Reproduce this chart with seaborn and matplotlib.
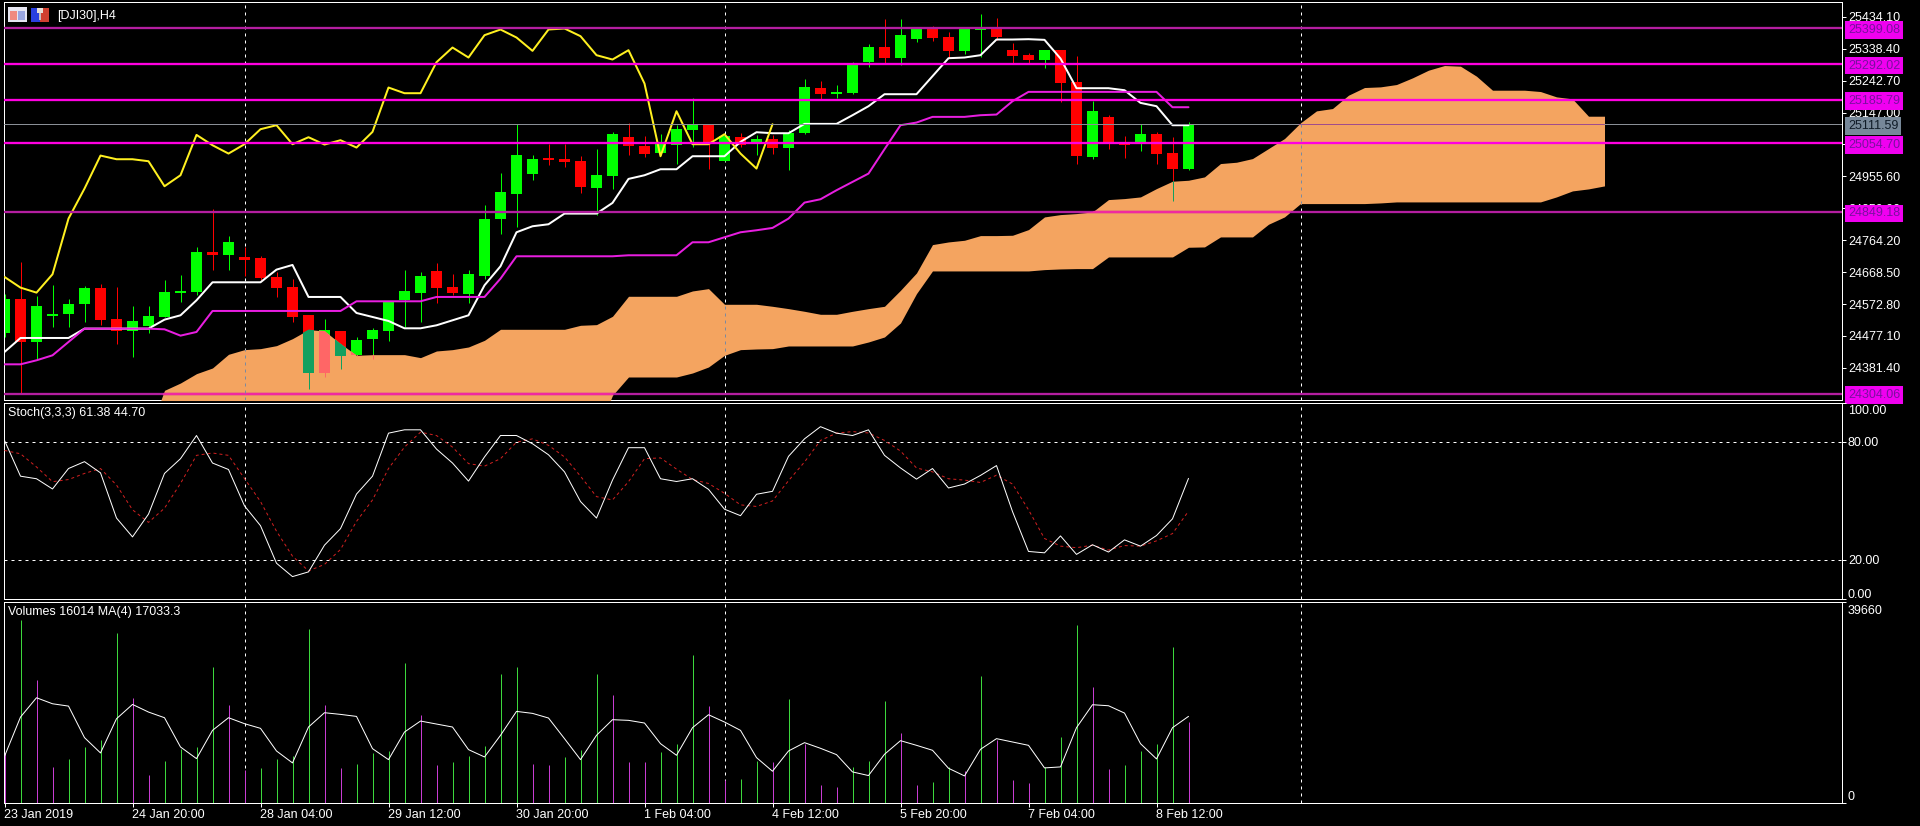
import numpy as np
import matplotlib
matplotlib.use("Agg")
import matplotlib.pyplot as plt
from matplotlib.patches import Rectangle
from matplotlib.transforms import blended_transform_factory, ScaledTranslation
import seaborn as sns

# ---------- data ----------
opens = [24486,24589,24459,24537,24542,24572,24620,24527,24492,24506,24533,24605,24608,24728,24719,24713,24710,24653,24623,24539,
         24366,24492,24419,24467,24492,24584,24605,24671,24623,24602,24656,24827,24902,24962,25010,25007,25001,24920,24956,25073,
         25046,25025,25049,25094,25109,25001,25073,25052,25067,25040,25085,25220,25202,25205,25298,25343,25310,25367,25397,25373,
         25331,25394,25397,25334,25319,25304,25334,25238,25013,25133,25055,25052,25082,25025,24977]
closes = [24587,24459,24566,24542,24572,24620,24524,24492,24521,24536,24608,24611,24728,24719,24758,24705,24650,24620,24533,24366,
          24496,24416,24466,24494,24579,24611,24656,24620,24605,24662,24827,24908,25019,25007,25004,24998,24923,24959,25082,25046,
          25022,25052,25097,25109,25052,25076,25049,25067,25040,25085,25223,25202,25208,25292,25343,25310,25379,25397,25370,25331,
          25397,25397,25373,25316,25304,25334,25235,25016,25151,25055,25049,25082,25022,24977,25111.59]
highs = [24604,24699,24596,24629,24587,24626,24632,24624,24566,24566,24644,24659,24743,24859,24776,24744,24716,24669,24649,24539,
         24529,24492,24474,24502,24579,24676,24669,24696,24662,24676,24869,24966,25112,25019,25052,25052,25016,25037,25088,25116,
         25076,25082,25109,25192,25114,25084,25086,25079,25079,25094,25249,25242,25229,25299,25354,25429,25429,25399,25406,25388,
         25399,25442,25432,25356,25326,25334,25334,25316,25181,25139,25076,25112,25088,25074,25118]
lows = [24474,24304,24409,24504,24504,24519,24509,24454,24414,24486,24533,24579,24599,24674,24674,24656,24646,24594,24519,24319,
        24354,24379,24416,24409,24462,24504,24519,24576,24599,24576,24649,24784,24804,24944,24989,24984,24906,24839,24919,25019,
        25014,25019,24992,25044,24977,25001,25044,25019,25024,24974,25084,25189,25192,25202,25284,25294,25289,25358,25362,25312,
        25322,25314,25366,25296,25294,25282,25179,24994,25009,25039,25012,25032,24994,24881,24974]
tenkan = [24429,24471,24471,24471,24471,24499,24499,24499,24499,24499,24526,24539,24584,24638,24638,24638,24638,24676,24690,24594,
          24594,24594,24546,24534,24522,24500,24500,24509,24524,24539,24629,24686,24788,24806,24812,24844,24844,24844,24876,24948,
          24959,24977,24977,25016,25016,25016,25059,25088,25085,25085,25113,25113,25113,25139,25166,25202,25202,25202,25256,25310,
          25312,25319,25366,25366,25367,25365,25309,25220,25220,25220,25214,25176,25166,25109,25109]
kijun = [24392,24392,24404,24419,24459,24499,24499,24499,24499,24499,24497,24478,24489,24552,24552,24552,24552,24552,24552,24552,
         24552,24552,24581,24581,24581,24581,24581,24594,24594,24594,24594,24649,24716,24716,24716,24716,24716,24716,24716,24719,
         24719,24719,24719,24758,24758,24773,24788,24794,24801,24829,24877,24887,24914,24939,24964,25037,25109,25117,25134,25134,
         25134,25139,25141,25181,25209,25209,25209,25209,25209,25209,25209,25209,25209,25163,25163]
chikou = [24654,24622,24607,24662,24829,24919,25018,25007,25007,25001,24926,24959,25080,25049,25024,25052,25097,25109,25052,25073,
          25051,25064,25042,25089,25222,25205,25205,25298,25342,25312,25379,25396,25372,25332,25396,25399,25376,25319,25306,25334,
          25234,25016,25151,25052,25052,25082,25024,24979,25112]
cloud_first_bar = 9
cloud_upper = [24184,24314,24336,24364,24381,24422,24436,24439,24448,24469,24496,24492,24454,24419,24421,24421,24421,24412,24432,24436,
               24444,24464,24497,24497,24497,24497,24497,24509,24511,24536,24596,24596,24596,24596,24612,24619,24572,24572,24572,24566,
               24559,24551,24542,24542,24551,24559,24566,24614,24666,24751,24759,24764,24778,24778,24779,24796,24834,24841,24844,24849,
               24886,24889,24894,24919,24941,24944,24954,24994,24998,25009,25039,25069,25116,25152,25159,25199,25222,25224,25231,25251,
               25274,25288,25286,25256,25214,25214,25214,25210,25194,25188,25136,25136]
cloud_lower = [24184,24184,24184,24184,24184,24184,24184,24184,24184,24184,24184,24184,24184,24184,24184,24184,24184,24184,24184,24184,
               24184,24184,24184,24184,24184,24184,24184,24184,24184,24299,24354,24354,24354,24354,24366,24384,24419,24436,24438,24439,
               24447,24447,24447,24447,24447,24459,24474,24516,24604,24672,24672,24672,24672,24672,24672,24672,24676,24678,24679,24679,
               24714,24714,24714,24714,24714,24743,24744,24774,24774,24774,24812,24834,24874,24874,24874,24874,24874,24876,24879,24879,
               24879,24879,24879,24879,24879,24879,24879,24879,24894,24912,24918,24927]
level_strong = [25292.02, 25185.79, 25054.70]
level_weak = [25399.08, 24849.18, 24304.06]
last_price = 25111.59
price_ticks = [25434.10,25338.40,25242.70,25147.00,25051.30,24955.60,24859.90,24764.20,24668.50,24572.80,24477.10,24381.40]
stoch_main = [80.7,62.5,61.2,56.0,66.4,69.9,64.2,41.2,31.6,43.2,63.9,71.4,83.2,69.2,65.9,47.4,37.3,18.2,11.4,13.8,
              27.4,35.8,53.4,62.5,84.4,86.1,86.1,76.3,69.2,60.0,72.3,83.2,83.2,79.0,73.4,64.7,49.6,41.2,60.5,77.0,
              77.0,61.2,59.8,61.2,55.8,45.7,42.4,53.3,54.8,72.6,81.5,87.7,84.4,83.2,86.1,73.1,66.7,61.0,66.4,56.5,
              58.5,62.9,67.9,44.5,24.2,23.5,32.1,22.7,27.6,23.9,30.1,26.9,32.3,40.8,61.38]
stoch_signal = [75.6,73.9,67.2,59.7,60.8,63.9,66.4,58.0,45.4,39.0,46.2,58.8,73.1,74.3,73.1,61.3,49.6,34.5,21.8,14.3,
                17.6,25.2,39.5,50.4,66.4,77.3,84.9,83.2,77.3,68.9,67.6,71.4,79.8,81.5,78.2,72.3,62.5,52.1,50.4,59.7,
                71.4,71.8,66.1,60.8,58.8,53.8,47.9,47.1,49.9,60.2,69.7,80.7,84.4,85.2,84.5,80.7,75.3,66.7,64.7,61.2,
                60.5,59.3,63.0,58.5,45.4,30.8,26.9,26.1,27.4,24.9,27.2,26.9,29.6,33.3,44.70]
volumes = [9700,36170,24140,7040,8680,10980,12430,33610,20650,5390,8220,10650,10980,26770,19200,6380,6770,8620,9210,34330,
           19200,6770,7560,9800,10190,27690,17360,7370,8020,9140,11180,25320,26770,7630,7430,9010,10330,25320,21180,8020,
           8020,9930,11640,29270,19070,4410,4670,8220,7960,20390,11510,3490,3090,7040,8220,19990,13750,3420,4010,7040,
           6250,25120,12430,4410,3880,7040,12960,35190,22820,6580,7370,10190,11510,30850,16014]
volume_ma = [9140,16900,20720,19530,19070,12830,9800,16570,19400,17890,16770,10980,8680,14270,16770,15590,14670,10190,7830,14930,
             17760,17430,17030,10650,8480,13940,16110,15520,14930,10460,9010,13290,18020,17630,16710,12630,8480,13290,16380,16250,
             15720,11640,9340,14800,17360,15920,14270,8880,6180,10190,11840,10720,9470,6050,5330,9540,12230,11310,10330,6770,
             5260,10520,12630,11970,11310,6840,7040,14800,19340,19140,17690,11640,8620,14800,17033.3]
separator_bars = [15, 45, 81]
date_tick_bars = [0, 8, 16, 24, 32, 40, 48, 56, 64, 72]
date_labels = ["23 Jan 2019","24 Jan 20:00","28 Jan 04:00","29 Jan 12:00","30 Jan 20:00",
               "1 Feb 04:00","4 Feb 12:00","5 Feb 20:00","7 Feb 04:00","8 Feb 12:00"]

# ---------- style ----------
W, H = 1920, 826
PX = 0.72
sns.set_theme(style="dark", rc={"figure.facecolor": "black", "axes.facecolor": "black",
                                "savefig.facecolor": "black", "axes.edgecolor": "white",
                                "axes.linewidth": PX, "text.color": "white",
                                "xtick.color": "white", "ytick.color": "white", "axes.grid": False})
plt.rcParams["font.family"] = ["Liberation Sans", "DejaVu Sans"]
FS = 9

LIME, RED = "#00FF00", "#FF0000"
IN_RED, IN_LIME = "#12A05F", "#FF6666"
CLOUD = "#F4A460"
MAG, PURPLE = "#FF00E0", "#B41EA0"
IN_LINE = "#F02AA0"
VOL_UP, VOL_DOWN = "#3CD73C", "#C83CD2"

fig = plt.figure(figsize=(W / 100, H / 100), dpi=100)


def rect(l, t, r, b):
    return [l / W, 1 - b / H, (r - l) / W, (b - t) / H]


L, R = 4.0, 1841.6
BAR = 16.0
x0 = 4.5
xlim = ((L - x0) / BAR, (R - x0) / BAR)
ax = fig.add_axes(rect(L, 2.5, R, 400))
ax2 = fig.add_axes(rect(L, 402.5, R, 599))
ax3 = fig.add_axes(rect(L, 602, R, 802.5))
for a in (ax, ax2, ax3):
    a.set_xlim(*xlim)
    a.yaxis.tick_right()
    a.tick_params(axis="y", length=3, width=PX, pad=1.5, labelsize=FS, colors="white", right=True, left=False)
    a.tick_params(axis="x", bottom=False, labelbottom=False)
    for bar in separator_bars:
        a.axvline(bar, color="white", lw=PX, ls=(0, (3, 4)), zorder=1.5)
ax.set_ylim(24285, 25477)
ax2.set_ylim(0, 100)
ax3.set_ylim(0, 39660)

# ---------- candles ----------
bars = np.arange(len(opens))
o, c, hi, lo = map(np.array, (opens, closes, highs, lows))
up = c >= o


def candles(colors_up, colors_down, z):
    cols = [colors_up if u else colors_down for u in up]
    v = ax.vlines(bars, lo, hi, colors=cols, lw=PX, zorder=z)
    b = ax.bar(bars, np.abs(c - o), bottom=np.minimum(o, c), width=11 / BAR, color=cols, linewidth=0, zorder=z)
    return [v] + list(b)


candles(LIME, RED, 2)
upper_x = np.arange(len(cloud_upper)) + cloud_first_bar
cloud = ax.fill_between(upper_x, cloud_lower, cloud_upper, color=CLOUD, linewidth=0, zorder=3)
cloud_path = cloud.get_paths()[0]
for art in candles(IN_LIME, IN_RED, 4):
    art.set_clip_path(cloud_path, transform=ax.transData)

# ---------- Ichimoku lines ----------
common = dict(errorbar=None, estimator=None, sort=False)
sns.lineplot(x=bars, y=tenkan, ax=ax, color="white", linewidth=2 * PX, zorder=5, **common)
sns.lineplot(x=bars, y=kijun, ax=ax, color="#E81EE0", linewidth=2 * PX, zorder=5, **common)
sns.lineplot(x=np.arange(len(chikou)), y=chikou, ax=ax, color="#FFF020", linewidth=2 * PX, zorder=5, **common)

# ---------- horizontal levels ----------
for lv in level_strong:
    ax.axhline(lv, color=MAG, lw=2.3 * PX, zorder=6)
for lv in level_weak:
    ax.axhline(lv, color=PURPLE, lw=2.3 * PX, zorder=6)
ax.axhline(last_price, color="#8A8F96", lw=PX, zorder=6)
for lv in level_weak:
    ax.axhline(lv, color=IN_LINE, lw=2.3 * PX, zorder=6.1).set_clip_path(cloud_path, transform=ax.transData)
ax.axhline(last_price, color="#A04C8C", lw=PX, zorder=6.1).set_clip_path(cloud_path, transform=ax.transData)
for bar in separator_bars:
    ax.axvline(bar, color="#7A8AA0", lw=PX, ls=(0, (3, 4)), zorder=6.1).set_clip_path(cloud_path, transform=ax.transData)

ax.set_yticks(price_ticks)
ax.set_yticklabels([f"{t:.2f}" for t in price_ticks])

# right-hand price boxes
tr = blended_transform_factory(ax.transAxes, ax.transData)
xtxt = (1848 - L) / (R - L)
for lv, fc, tc in [(v, "#F000F0", "#7A10A0") for v in level_weak + level_strong] + [(last_price, "#778899", "#101C28")]:
    ax.text(xtxt, lv, f"{lv:.2f}", transform=tr, color=tc, fontsize=FS, ha="left", va="center_baseline",
            clip_on=False, zorder=10,
            bbox=dict(boxstyle="square,pad=0.22", fc=fc, ec="none"))

# ---------- stochastic ----------
sns.lineplot(x=bars, y=stoch_signal, ax=ax2, color="#D02020", linewidth=PX, linestyle=(0, (3, 3)), zorder=3, **common)
sns.lineplot(x=bars, y=stoch_main, ax=ax2, color="white", linewidth=PX, zorder=4, **common)
for lv in (80, 20):
    ax2.axhline(lv, color="white", lw=PX, ls=(0, (3, 4)), zorder=2)
ax2.set_yticks([100, 80, 20, 0])
ax2.set_yticklabels(["100.00", "80.00", "20.00", "0.00"])


def nudge(label, px_down):
    label.set_transform(label.get_transform() + ScaledTranslation(0, -px_down / 100, fig.dpi_scale_trans))


labs = ax2.get_yticklabels()
labs[0].set_va("top")
labs[3].set_va("bottom")
nudge(labs[0], 2)
nudge(labs[3], 2)

# ---------- volumes ----------
vol = np.array(volumes)
vol_cols = [VOL_UP if i and vol[i] > vol[i - 1] else VOL_DOWN for i in bars]
ax3.vlines(bars, 0, vol, colors=vol_cols, lw=PX, zorder=2)
sns.lineplot(x=bars, y=volume_ma, ax=ax3, color="white", linewidth=PX, zorder=3, **common)
ax3.set_yticks([39660, 0])
ax3.set_yticklabels(["39660", "0"])
labs = ax3.get_yticklabels()
labs[0].set_va("top")
labs[1].set_va("bottom")
nudge(labs[0], 3)
ax3.set_xticks(date_tick_bars)
ax3.set_xticklabels(date_labels, ha="left", fontsize=FS, color="white")
ax3.tick_params(axis="x", bottom=True, labelbottom=True, length=3, width=PX, pad=2, colors="white")

for a in (ax, ax2, ax3):
    a.set_xlabel("")
    a.set_ylabel("")

# ---------- titles ----------
fig.text(57.5 / W, 1 - 15.5 / H, "[DJI30],H4", color="white", fontsize=FS, va="center", ha="left")
fig.text(7.5 / W, 1 - 413.5 / H, "Stoch(3,3,3) 61.38 44.70", color="white", fontsize=FS, va="center", ha="left")
fig.text(7.5 / W, 1 - 612.5 / H, "Volumes 16014 MA(4) 17033.3", color="white", fontsize=FS, va="center", ha="left")


# ---------- small toolbar icons ----------
def box(l, t, r, b, fc):
    fig.patches.append(Rectangle((l / W, 1 - b / H), (r - l) / W, (b - t) / H, transform=fig.transFigure,
                                 fc=fc, ec="none", figure=fig))


box(8, 7, 27, 22, "#E6E6F2")
box(10, 11, 17, 20, "#F08A80")
box(18, 11, 25, 20, "#9AA6E0")
box(31, 8, 40, 22, "#2A40E0")
box(40, 8, 49, 22, "#D04030")
box(37, 8, 43, 13, "#E8E0D8")
box(39, 13, 41, 20, "#C8C0C0")

fig.savefig("out.png", dpi=100, facecolor="black")
